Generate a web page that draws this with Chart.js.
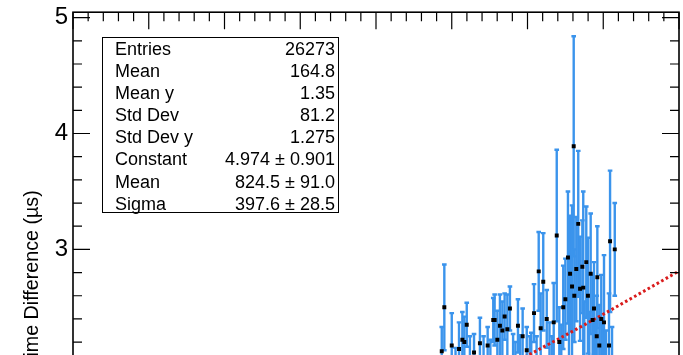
<!DOCTYPE html>
<html><head><meta charset="utf-8">
<script src="https://cdn.jsdelivr.net/npm/chart.js@4"></script>
<style>
html,body{margin:0;padding:0;background:#fff;overflow:hidden;width:683px;height:355px}
#wrap{width:683px;height:355px;overflow:hidden;position:relative;background:#fff}
canvas{display:block}
</style></head><body>
<div id="wrap"><canvas id="c" width="683" height="586"></canvas></div>
<script>
// ---- data ----
const binCenters = [243.4,245.1,250.0,254.8,257.0,258.3,259.9,264.7,268.6,273.7,277.4,278.3,280.1,281.8,283.4,284.9,286.7,288.4,293.7,296.8,299.5,304.3,307.4,308.7,310.4,312.7,317.3,319.3,321.0,323.6,325.0,326.7,328.1,329.4,330.5,330.9,332.2,333.5,334.7,336.2,336.8,338.8,339.9,341.7,343.0,343.9,345.7,346.1,347.4,348.7,350.5,353.8,354.5,357.6,
  252.5,262.0,271.0,275.5,290.5,292.0,295.2,301.5,302.5,306.0,314.5,316.0,322.3,327.4,337.5,340.8,344.8,349.6,351.8,355.8];
const timeDiff = [2.12,2.50,2.17,2.14,2.22,2.20,2.35,2.11,2.19,2.17,2.39,2.39,2.22,2.34,2.30,2.42,2.31,2.49,2.34,2.25,2.13,2.45,2.81,2.32,2.72,2.40,2.37,3.12,2.20,2.50,2.57,2.93,2.79,2.68,3.89,2.60,2.83,3.22,2.66,2.85,2.67,2.89,2.60,2.79,2.39,2.49,2.25,2.76,2.17,2.40,2.37,2.17,3.07,3.00,
  1.85,1.95,1.90,1.92,1.95,1.80,1.96,1.90,1.98,1.85,1.95,1.80,1.90,2.02,2.00,1.96,1.95,1.98,1.90,1.95];
const timeDiffErr = [0.21,0.37,0.28,0.23,0.24,0.22,0.19,0.16,0.22,0.16,0.19,0.22,0.25,0.27,0.25,0.20,0.30,0.19,0.23,0.24,0.20,0.25,0.34,0.30,0.42,0.25,0.34,0.74,0.30,0.36,0.35,0.57,0.50,0.70,0.95,0.40,0.45,0.63,0.45,0.40,0.83,0.48,0.50,0.52,0.40,0.40,0.35,0.44,0.35,0.38,0.58,0.45,0.61,0.40,
  0.30,0.30,0.35,0.30,0.32,0.40,0.30,0.35,0.30,0.40,0.42,0.45,0.45,0.50,0.55,0.50,0.45,0.42,0.40,0.38];
const fitX = [240,260,280,300,320,340,360,380,400];
const fitY = [1.688,1.816,1.947,2.084,2.224,2.367,2.514,2.663,2.813];
const yTickValues = [1,2,3,4,5];
const xTickValues = [0,50,100,150,200,250,300,350,400];
const yTitle = 'Time Difference (\u00B5s)';
const statNames = ['Entries','Mean','Mean y','Std Dev','Std Dev y','Constant','Mean','Sigma'];
const statValues = ['26273','164.8','1.35','81.2','1.275','4.974 \u00B1 0.901','824.5 \u00B1 91.0','397.6 \u00B1 28.5'];

const FONT = "'Liberation Sans', Arial, Helvetica, sans-serif";

const errorBars = {
  id: 'errorBars',
  beforeDatasetsDraw(chart) {
    const {ctx, chartArea: a, scales: {x, y}} = chart;
    ctx.save();
    ctx.beginPath(); ctx.rect(a.left, a.top, a.right - a.left, a.bottom - a.top); ctx.clip();
    ctx.strokeStyle = '#3b94ec'; ctx.lineWidth = 2.4;
    for (let i = 0; i < binCenters.length; i++) {
      const px = x.getPixelForValue(binCenters[i]);
      const y1 = y.getPixelForValue(timeDiff[i] + timeDiffErr[i]);
      const y2 = y.getPixelForValue(timeDiff[i] - timeDiffErr[i]);
      ctx.beginPath();
      ctx.moveTo(px, y1); ctx.lineTo(px, y2);
      ctx.moveTo(px - 2.3, y1); ctx.lineTo(px + 2.3, y1);
      ctx.moveTo(px - 2.3, y2); ctx.lineTo(px + 2.3, y2);
      ctx.stroke();
    }
    ctx.restore();
  }
};

const frameAndStats = {
  id: 'frameAndStats',
  afterDraw(chart) {
    const {ctx, chartArea: a, scales: {x, y}} = chart;
    ctx.save();
    ctx.strokeStyle = '#000';
    ctx.lineWidth = 1.2;
    const MAJ = 17, MIN = 9;
    ctx.beginPath();
    const ys = yTickValues[1] - yTickValues[0];
    for (let k = -1; k < yTickValues.length; k++) {
      const base = k < 0 ? yTickValues[0] - ys : yTickValues[k];
      for (let s = 0; s < 5; s++) {
        const vv = base + s * ys / 5;
        const py = y.getPixelForValue(vv);
        if (py < a.top - 0.5 || py > a.bottom + 0.5) continue;
        const L = s === 0 ? MAJ : MIN;
        ctx.moveTo(a.left, py); ctx.lineTo(a.left + L, py);
        ctx.moveTo(a.right, py); ctx.lineTo(a.right - L, py);
      }
    }
    const xs = xTickValues[1] - xTickValues[0];
    for (let k = 0; k < xTickValues.length; k++) {
      for (let s = 0; s < 5; s++) {
        const vv = xTickValues[k] + s * xs / 5;
        const px = x.getPixelForValue(vv);
        if (px < a.left - 0.5 || px > a.right + 0.5) continue;
        const L = s === 0 ? MAJ : MIN;
        ctx.moveTo(px, a.top); ctx.lineTo(px, a.top + L);
        ctx.moveTo(px, a.bottom); ctx.lineTo(px, a.bottom - L);
      }
    }
    ctx.stroke();
    ctx.lineWidth = 1.6;
    ctx.strokeRect(a.left, a.top, a.right - a.left, a.bottom - a.top);
    // stats box
    const bx = 102, by = 37, bw = 236, bh = 175;
    ctx.fillStyle = '#fff';
    ctx.fillRect(bx, by, bw, bh);
    ctx.lineWidth = 1;
    ctx.strokeRect(bx + 0.5, by + 0.5, bw, bh);
    ctx.fillStyle = '#000';
    ctx.font = '18px ' + FONT;
    ctx.textBaseline = 'middle';
    for (let i = 0; i < statNames.length; i++) {
      const ty = 50 + i * 22.1;
      ctx.textAlign = 'left';
      ctx.fillText(statNames[i], 115, ty);
      ctx.textAlign = 'right';
      ctx.fillText(statValues[i], 335, ty);
    }
    ctx.restore();
  }
};

new Chart(document.getElementById('c'), {
  type: 'scatter',
  data: {
    datasets: [
      {
        label: 'data',
        data: binCenters.map((v, i) => ({x: v, y: timeDiff[i]})),
        pointStyle: 'rect', pointRadius: 2.8, pointBorderWidth: 0,
        backgroundColor: '#000', borderColor: '#000', showLine: false
      },
      {
        label: 'fit',
        type: 'line',
        data: fitX.map((v, i) => ({x: v, y: fitY[i]})),
        borderColor: '#d91c1c', borderWidth: 3, borderDash: [2.6, 2.6],
        pointRadius: 0, showLine: true, fill: false, cubicInterpolationMode: 'monotone'
      }
    ]
  },
  options: {
    responsive: false, animation: false,
    devicePixelRatio: 1,
    layout: {padding: {top: 9.5, right: 4, left: 0, bottom: 0}},
    plugins: {legend: {display: false}, tooltip: {enabled: false}},
    scales: {
      x: {
        type: 'linear', min: 0, max: 400,
        grid: {display: false, drawTicks: false}, border: {display: false},
        ticks: {display: false},
        afterBuildTicks: s => { s.ticks = xTickValues.map(v => ({value: v})); },
        afterFit: s => { s.height = 40; }
      },
      y: {
        type: 'linear', min: 0.44, max: 5.047,
        grid: {display: false, drawTicks: false}, border: {display: false},
        ticks: {color: '#000', padding: 5, font: {family: FONT, size: 24, lineHeight: 0.6}},
        afterBuildTicks: s => { s.ticks = yTickValues.map(v => ({value: v})); },
        afterFit: s => { s.width = 73; },
        title: {display: true, text: yTitle, color: '#000', font: {family: FONT, size: 19.7}, padding: {top: 21, bottom: 0}}
      }
    }
  },
  plugins: [errorBars, frameAndStats]
});
</script>
</body></html>
